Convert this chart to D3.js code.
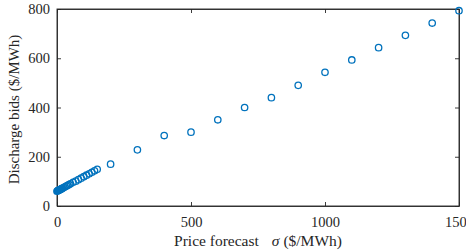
<!DOCTYPE html>
<html>
<head>
<meta charset="utf-8">
<script src="https://cdn.jsdelivr.net/npm/d3@7"></script>
<style>
  body { margin: 0; background: #fff; }
  svg text { font-family: "Liberation Serif", "DejaVu Serif", serif; fill: #262626; }
</style>
</head>
<body>
<div id="chart"></div>
<script>
// price forecast sigma ($/MWh) and discharge bids ($/MWh)
let forecast = [0, 2, 4, 6, 8, 10, 12, 14, 16, 18, 20, 25, 30, 35, 40, 45, 50,
    60, 70, 80, 90, 100, 110, 120, 130, 140, 150,
    200, 300, 400, 500, 600, 700, 800, 900, 1000, 1100, 1200, 1300, 1400, 1500];
let bids = [60, 62, 63, 64, 65, 66, 67, 68, 70, 71, 72, 75, 78, 81, 84, 87, 90,
    96, 101, 107, 113, 119, 125, 131, 137, 143, 149,
    170, 228, 286, 300, 350, 400, 440, 490, 543, 593, 643, 693, 743, 793];
let xTicks = [0, 500, 1000, 1500];
let yTicks = [0, 200, 400, 600, 800];

let width = 466, height = 252;
let margin = {top: 9, right: 7, bottom: 46, left: 57};
let fontStack = "'Liberation Serif', 'DejaVu Serif', serif";
let fontSize = "14.5px";

let svg = d3.select("#chart").append("svg")
    .attr("width", width)
    .attr("height", height);

let x = d3.scaleLinear().domain([0, 1500]).range([margin.left, width - margin.right]);
let y = d3.scaleLinear().domain([0, 800]).range([height - margin.bottom, margin.top]);

let axisColor = "#262626";
let tickLen = 4;

//bottom and left axes with inner ticks
let gx = svg.append("g")
    .attr("transform", "translate(0," + y(0) + ")")
    .call(d3.axisBottom(x).tickValues(xTicks).tickFormat(d3.format("d"))
        .tickSizeInner(-tickLen).tickSizeOuter(0).tickPadding(11));
let gy = svg.append("g")
    .attr("transform", "translate(" + x(0) + ",0)")
    .call(d3.axisLeft(y).tickValues(yTicks).tickFormat(d3.format("d"))
        .tickSizeInner(-tickLen).tickSizeOuter(0).tickPadding(7));

//top and right mirror ticks
svg.append("g")
    .attr("transform", "translate(0," + y(800) + ")")
    .call(d3.axisTop(x).tickValues(xTicks).tickSizeInner(-tickLen).tickSizeOuter(0).tickFormat(""));
svg.append("g")
    .attr("transform", "translate(" + x(1500) + ",0)")
    .call(d3.axisRight(y).tickValues(yTicks).tickSizeInner(-tickLen).tickSizeOuter(0).tickFormat(""));

svg.selectAll("g").attr("font-family", fontStack);
svg.selectAll(".domain, .tick line").attr("stroke", axisColor).attr("stroke-width", 0.9);
svg.selectAll(".tick text").style("font-size", fontSize).style("font-family", fontStack).attr("fill", axisColor);

//box
svg.append("rect")
    .attr("x", x(0)).attr("y", y(800))
    .attr("width", x(1500) - x(0)).attr("height", y(0) - y(800))
    .attr("fill", "none").attr("stroke", axisColor).attr("stroke-width", 0.9);

//markers
svg.append("g").selectAll("circle")
    .data(forecast.map((f, i) => [f, bids[i]]))
    .join("circle")
    .attr("cx", d => x(d[0]))
    .attr("cy", d => y(d[1]))
    .attr("r", 3.2)
    .attr("fill", "none")
    .attr("stroke", "#0072BD")
    .attr("stroke-width", 1.3);

//axis labels
let xl = svg.append("text")
    .attr("x", (x(0) + x(1500)) / 2)
    .attr("y", 246)
    .attr("text-anchor", "middle")
    .style("font-family", fontStack)
    .style("font-size", "15.5px");
xl.append("tspan").text("Price forecast");
xl.append("tspan").attr("dx", 13).style("font-style", "italic").text("\u03c3");
xl.append("tspan").text(" ($/MWh)");

svg.append("text")
    .attr("transform", "translate(19," + ((y(0) + y(800)) / 2 + 2) + ") rotate(-90)")
    .attr("text-anchor", "middle")
    .style("font-family", fontStack)
    .style("font-size", "15px")
    .text("Discharge bids ($/MWh)");
</script>
</body>
</html>
